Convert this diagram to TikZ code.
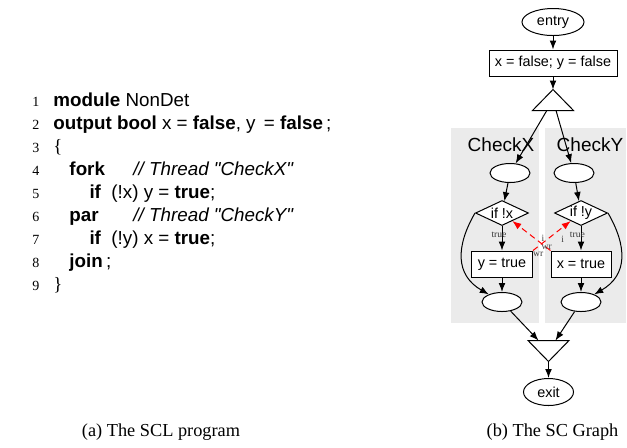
\documentclass[tikz,border=0pt]{standalone}
\usepackage{fontspec}
\setmainfont{Liberation Serif}
\setsansfont{Liberation Sans}
\usetikzlibrary{arrows.meta,positioning,shapes.geometric}

\newcommand{\kw}[1]{\textbf{#1}}
\newcommand{\lnum}[1]{{\rmfamily\fontsize{7}{8}\selectfont #1}}

\begin{document}
\begin{tikzpicture}[x=0.5pt, y=-0.5pt, >={Latex[length=4.5pt,width=3.4pt]}, line width=0.5pt, on grid,
    every node/.style={font=\sffamily\fontsize{7.2}{8}\selectfont},
    blob/.style={draw, fill=white, ellipse, inner sep=0pt, minimum width=20pt, minimum height=9.5pt},
    term/.style={draw, fill=white, ellipse, inner sep=0pt, minimum height=13.5pt},
    assign/.style={draw, fill=white, rectangle, inner sep=0pt, minimum height=13pt},
    cond/.style={draw, fill=white, diamond, aspect=2.1, inner sep=0pt, minimum width=26.5pt, minimum height=12.5pt},
    tri/.style={rectangle, inner sep=0pt, minimum width=20pt, minimum height=10pt},
    cluster/.style={fill=black!8},
    clabel/.style={font=\sffamily\fontsize{9.5}{10}\selectfont},
    elabel/.style={font=\rmfamily\fontsize{4.8}{5}\selectfont, text=black!80},
    dep/.style={->, red, dash pattern=on 3pt off 2pt},
    deplabel/.style={font=\rmfamily\fontsize{4.8}{5}\selectfont, text=black!75},
    codebox/.style={anchor=north west, inner sep=0pt, font=\sffamily\fontsize{9.4}{11.5}\selectfont},
    subcap/.style={font=\rmfamily\fontsize{9.15}{11}\selectfont}]
    \useasboundingbox (0,0) rectangle (627,447);

    % Threads
    \fill [cluster] (451,128) rectangle (539,323);
    \fill [cluster] (545,128) rectangle (626,323);

    % Program
    \node [codebox] (prog) at (32,89.5) {%
        \begin{tabular}{@{}r@{\hspace{7pt}}l@{}}
        \lnum{1} & \kw{module} NonDet\\
        \lnum{2} & \kw{output bool} x = \kw{false}, y \,= \kw{false}\,;\\
        \lnum{3} & \textrm{\{}\\
        \lnum{4} & \hspace{8pt}\makebox[32pt][l]{\kw{fork}}\textit{// Thread \textquotedbl CheckX\textquotedbl}\\
        \lnum{5} & \hspace{18pt}\kw{if}\ \ (!x)\ y = \kw{true};\\
        \lnum{6} & \hspace{8pt}\makebox[32pt][l]{\kw{par}}\textit{// Thread \textquotedbl CheckY\textquotedbl}\\
        \lnum{7} & \hspace{18pt}\kw{if}\ \ (!y)\ x = \kw{true};\\
        \lnum{8} & \hspace{8pt}\kw{join}\,;\\
        \lnum{9} & \textrm{\}}
        \end{tabular}};

    % Nodes
    \node [term, minimum width=31pt]            (E)  at (553,22)                  {entry};
    \node [assign, minimum width=64pt]          (I)  [below=20.5pt of E]          {x = false; y = false};
    \node [tri]                                 (F)  [below=18.5pt of I]          {};
    \node [blob]                                (L1) [below left=36.5pt and 21.5pt of F]  {};
    \node [blob]                                (R1) [below right=36.5pt and 10.5pt of F] {};
    \node [cond]                                (DX) [below left=20pt and 4pt of L1]   {if !x};
    \node [cond]                                (DY) [below right=20pt and 3.5pt of R1] {if !y};
    \node [assign, minimum width=30.5pt]        (BY) [below=25.5pt of DX]         {y = true};
    \node [assign, minimum width=30pt]          (BX) [below=25.5pt of DY]         {x = true};
    \node [blob]                                (L2) [below=19pt of BY]           {};
    \node [blob]                                (R2) [below=19pt of BX]           {};
    \node [tri]                                 (J)  [below right=24.5pt and 23.25pt of L2] {};
    \node [term, minimum width=25pt]            (X)  [below=20.5pt of J]          {exit};

    % Fork and join
    \draw (F.north) -- (F.south east) -- (F.south west) -- cycle;
    \draw (J.south) -- (J.north east) -- (J.north west) -- cycle;

    \node [clabel] (cx) [above left=14pt and 4.5pt of L1] {CheckX};
    \node [clabel] (cy) [above right=14pt and 8pt of R1] {CheckY};

    % Paths
    \path [->] (E)  edge (I);
    \path [->] (I)  edge (F);
    \path [->] (F)  edge (L1);
    \path [->] (F)  edge (R1);
    \path [->] (L1) edge (DX);
    \path [->] (R1) edge (DY);
    \path [->] (DX) edge node [elabel, pos=0.37, xshift=-1.5pt] {true} (BY);
    \path [->] (DY) edge node [elabel, pos=0.37, xshift=-1.8pt] {true} (BX);
    \path [->] (DX.west) edge [out=240, in=150, looseness=1.2] (L2);
    \path [->] (DY.east) edge [out=-60, in=30, looseness=1.2] (R2);
    \path [->] (BY) edge (L2);
    \path [->] (BX) edge (R2);
    \path [->] (L2) edge (J);
    \path [->] (R2) edge (J);
    \path [->] (J)  edge (X);

    % Dependencies
    \path [dep] (BX.north west) edge node [deplabel, pos=0.1] {wr}
                                     node [deplabel, pos=0.2, yshift=3pt] {i} (DX);
    \path [dep] (BY.north east) edge node [deplabel, pos=0.14, yshift=-4pt] {wr}
                                     node [deplabel, pos=0.79, yshift=-6pt] {i} (DY);

    % Captions
    \node [subcap] (capa) at (161,432) {(a) The SCL program};
    \node [subcap] (capb) [below right=20pt and 2pt of X] {(b) The SC Graph};
\end{tikzpicture}
\end{document}
